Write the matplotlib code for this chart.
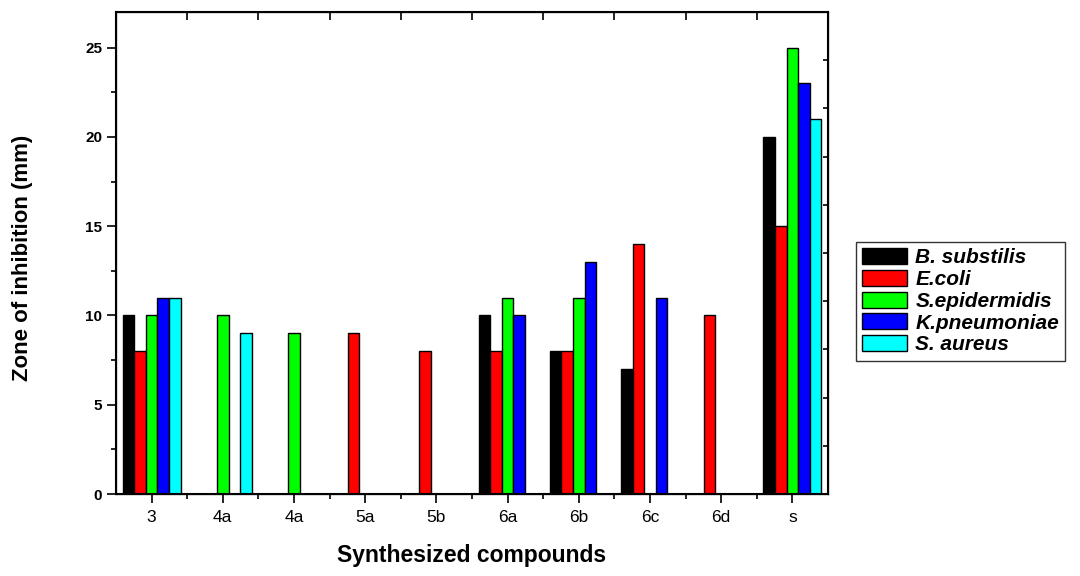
import numpy as np
import matplotlib
matplotlib.use("Agg")
import matplotlib.pyplot as plt
from matplotlib.patches import Patch

plt.rcParams['font.family'] = ['Liberation Sans', 'DejaVu Sans']

compounds = ['3', '4a', '4a', '5a', '5b', '6a', '6b', '6c', '6d', 's']
series_names = ['B. substilis', 'E.coli', 'S.epidermidis', 'K.pneumoniae', 'S. aureus']
colors = ['#000000', '#FF0000', '#00FF00', '#0000FF', '#00FFFF']

b_substilis   = [10, None, None, None, None, 10, 8, 7, None, 20]
e_coli        = [8, None, None, 9, 8, 8, 8, 14, 10, 15]
s_epidermidis = [10, 10, 9, None, None, 11, 11, None, None, 25]
k_pneumoniae  = [11, None, None, None, None, 10, 13, 11, None, 23]
s_aureus      = [11, 9, None, None, None, None, None, None, None, 21]
all_series = [b_substilis, e_coli, s_epidermidis, k_pneumoniae, s_aureus]

fig = plt.figure(figsize=(10.8, 5.76), dpi=100)
ax = fig.add_axes([116/1080, 1-494/576, (828-116)/1080, (494-12)/576])

x = np.arange(1, len(compounds) + 1)
bw = 0.163
for i, (vals, col) in enumerate(zip(all_series, colors)):
    xs = [xi + (i - 2) * bw for xi, v in zip(x, vals) if v is not None]
    hs = [v for v in vals if v is not None]
    ax.bar(xs, hs, width=bw, color=col, edgecolor='black', linewidth=1.0, zorder=2)

ax.set_xlim(0.5, 10.5)
ax.set_ylim(0, 27)
ax.set_xticks(x)
ax.set_xticklabels(compounds, fontsize=12.5)
ax.set_xticks(np.arange(1.5, 10.5, 1), minor=True)
ax.set_yticks([0, 5, 10, 15, 20, 25])
ax.set_yticks(np.arange(2.5, 27, 5), minor=True)
for lab in ax.get_yticklabels():
    lab.set_fontweight('bold')
    lab.set_fontsize(11)
ax.tick_params(axis='both', which='major', direction='out', length=6.5, width=1.2)
ax.tick_params(axis='both', which='minor', direction='out', length=3.6, width=1.2)
ax.tick_params(axis='x', which='major', pad=5)
for s in ax.spines.values():
    s.set_linewidth(1.5)

ax.set_xlabel('Synthesized compounds', fontsize=16.5, fontweight='bold')
ax.xaxis.set_label_coords(0.5, (494-544)/482)
ax.set_ylabel('Zone of inhibition (mm)', fontsize=16, fontweight='bold')
ax.yaxis.set_label_coords((33-116)/712, 0.49)

# top ticks (inward, at half positions)
axt = ax.twiny()
axt.set_xlim(ax.get_xlim())
axt.set_xticks(np.arange(1.5, 10.5, 1))
axt.tick_params(axis='x', direction='in', length=6, width=1.2, labeltop=False)
# right ticks (inward, independent scale)
axr = ax.twinx()
axr.set_ylim(0, 10)
axr.set_yticks(np.arange(0, 11, 1))
axr.tick_params(axis='y', direction='in', length=3.6, width=1.2, labelright=False)

handles = [Patch(facecolor=c, edgecolor='black', linewidth=1.0) for c in colors]
leg = fig.legend(handles, series_names, loc='upper left',
                 bbox_to_anchor=(856/1080, 1-242/576), bbox_transform=fig.transFigure,
                 borderaxespad=0, fancybox=False, frameon=True, edgecolor='black',
                 prop={'weight': 'bold', 'style': 'italic', 'size': 15},
                 handlelength=2.15, handleheight=0.8, handletextpad=0.4,
                 labelspacing=0.12, borderpad=0.3)
leg.get_frame().set_linewidth(1.0)

fig.savefig('out.png', dpi=100)
